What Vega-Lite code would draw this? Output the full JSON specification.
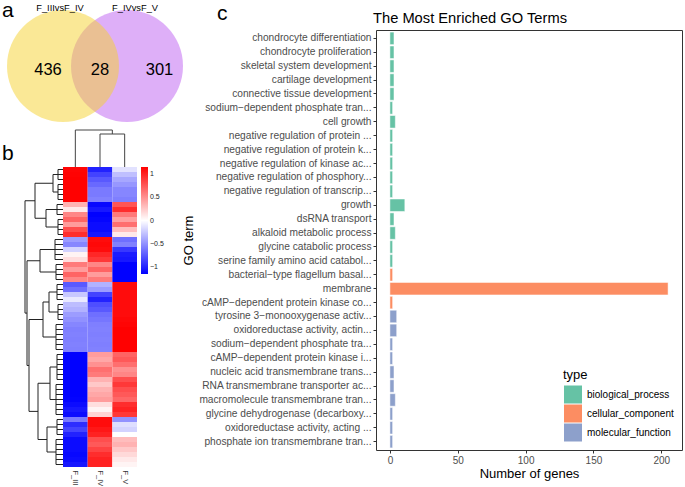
{
  "$schema": "https://vega.github.io/schema/vega-lite/v6.json",
  "padding": 0,
  "background": "white",
  "columns": 3,
  "align": "none",
  "bounds": "flush",
  "spacing": 0,
  "config": {
    "font": "Liberation Sans",
    "view": {"stroke": null},
    "axis": {"labelFont": "Liberation Sans", "titleFont": "Liberation Sans", "grid": false},
    "legend": {"labelFont": "Liberation Sans", "titleFont": "Liberation Sans"},
    "title": {"font": "Liberation Sans", "subtitleFont": "Liberation Sans", "color": "black", "subtitleColor": "black", "fontWeight": "normal"}
  },
  "datasets": {
    "venn": [
      {"set": "F_IVvsF_V", "u": 1.143, "v": 0},
      {"set": "F_IIIvsF_IV", "u": 0, "v": 0}
    ],
    "vtext": [
      {"label": "F_IIIvsF_IV", "kind": "set", "u": -0.054, "v": 0.991},
      {"label": "F_IVvsF_V", "kind": "set", "u": 1.286, "v": 0.991},
      {"label": "436", "kind": "count", "u": -0.268, "v": -0.161},
      {"label": "28", "kind": "count", "u": 0.661, "v": -0.161},
      {"label": "301", "kind": "count", "u": 1.723, "v": -0.161}
    ],
    "tdend": [
      {"u1": 0, "u2": 0, "h1": 0, "h2": 3.7},
      {"u1": 1, "u2": 1, "h1": 0, "h2": 3.3},
      {"u1": 2, "u2": 2, "h1": 0, "h2": 3.3},
      {"u1": 1, "u2": 2, "h1": 3.3, "h2": 3.3},
      {"u1": 1.5, "u2": 1.5, "h1": 3.3, "h2": 3.7},
      {"u1": 0, "u2": 1.5, "h1": 3.7, "h2": 3.7}
    ],
    "ldend": [
      {"h1": 1.0, "h2": 1.0, "p1": 1.5, "p2": 5},
      {"h1": 1.7, "h2": 1.7, "p1": 8.5, "p2": 12},
      {"h1": 2.8, "h2": 2.8, "p1": 3.25, "p2": 10.25},
      {"h1": 2.3, "h2": 2.3, "p1": 16.5, "p2": 21},
      {"h1": 1.4, "h2": 1.4, "p1": 25, "p2": 29},
      {"h1": 2.0, "h2": 2.0, "p1": 27, "p2": 34},
      {"h1": 1.3, "h2": 1.3, "p1": 40, "p2": 46.5},
      {"h1": 1.6, "h2": 1.6, "p1": 52, "p2": 57},
      {"h1": 2.5, "h2": 2.5, "p1": 43.25, "p2": 54.5},
      {"h1": 3.4, "h2": 3.4, "p1": 30.5, "p2": 48.875},
      {"h1": 3.6, "h2": 3.6, "p1": 18.75, "p2": 39.69},
      {"h1": 3.8, "h2": 3.8, "p1": 6.75, "p2": 29.22},
      {"h1": 0.5, "h2": 0.5, "p1": 0.5, "p2": 2.5},
      {"h1": 0.5, "h2": 0.5, "p1": 3.5, "p2": 6.5},
      {"h1": 0.6, "h2": 0.6, "p1": 7.5, "p2": 9.5},
      {"h1": 0.5, "h2": 0.5, "p1": 10.5, "p2": 13.5},
      {"h1": 0.8, "h2": 0.8, "p1": 14.5, "p2": 18.5},
      {"h1": 0.7, "h2": 0.7, "p1": 19.5, "p2": 22.5},
      {"h1": 0.6, "h2": 0.6, "p1": 23.5, "p2": 26.5},
      {"h1": 0.5, "h2": 0.5, "p1": 27.5, "p2": 30.5},
      {"h1": 0.7, "h2": 0.7, "p1": 31.5, "p2": 36.5},
      {"h1": 0.6, "h2": 0.6, "p1": 37.5, "p2": 42.5},
      {"h1": 0.7, "h2": 0.7, "p1": 43.5, "p2": 49.5},
      {"h1": 0.6, "h2": 0.6, "p1": 50.5, "p2": 53.5},
      {"h1": 0.7, "h2": 0.7, "p1": 54.5, "p2": 59.5},
      {"h1": 1.0, "h2": 0.5, "p1": 1.5, "p2": 1.5},
      {"h1": 1.0, "h2": 0.5, "p1": 5, "p2": 5},
      {"h1": 1.7, "h2": 0.6, "p1": 8.5, "p2": 8.5},
      {"h1": 1.7, "h2": 0.5, "p1": 12, "p2": 12},
      {"h1": 2.8, "h2": 1.0, "p1": 3.25, "p2": 3.25},
      {"h1": 2.8, "h2": 1.7, "p1": 10.25, "p2": 10.25},
      {"h1": 2.3, "h2": 0.8, "p1": 16.5, "p2": 16.5},
      {"h1": 2.3, "h2": 0.7, "p1": 21, "p2": 21},
      {"h1": 1.4, "h2": 0.6, "p1": 25, "p2": 25},
      {"h1": 1.4, "h2": 0.5, "p1": 29, "p2": 29},
      {"h1": 2.0, "h2": 1.4, "p1": 27, "p2": 27},
      {"h1": 2.0, "h2": 0.7, "p1": 34, "p2": 34},
      {"h1": 1.3, "h2": 0.6, "p1": 40, "p2": 40},
      {"h1": 1.3, "h2": 0.7, "p1": 46.5, "p2": 46.5},
      {"h1": 1.6, "h2": 0.6, "p1": 52, "p2": 52},
      {"h1": 1.6, "h2": 0.7, "p1": 57, "p2": 57},
      {"h1": 2.5, "h2": 1.3, "p1": 43.25, "p2": 43.25},
      {"h1": 2.5, "h2": 1.6, "p1": 54.5, "p2": 54.5},
      {"h1": 3.4, "h2": 2.0, "p1": 30.5, "p2": 30.5},
      {"h1": 3.4, "h2": 2.5, "p1": 48.875, "p2": 48.875},
      {"h1": 3.6, "h2": 2.3, "p1": 18.75, "p2": 18.75},
      {"h1": 3.6, "h2": 3.4, "p1": 39.69, "p2": 39.69},
      {"h1": 3.8, "h2": 2.8, "p1": 6.75, "p2": 6.75},
      {"h1": 3.8, "h2": 3.6, "p1": 29.22, "p2": 29.22}
    ],
    "leaves": [
      {"h": 0.5, "p": 0.5}, {"h": 0.5, "p": 1.5}, {"h": 0.5, "p": 2.5},
      {"h": 0.5, "p": 3.5}, {"h": 0.5, "p": 4.5}, {"h": 0.5, "p": 5.5}, {"h": 0.5, "p": 6.5},
      {"h": 0.6, "p": 7.5}, {"h": 0.6, "p": 8.5}, {"h": 0.6, "p": 9.5},
      {"h": 0.5, "p": 10.5}, {"h": 0.5, "p": 11.5}, {"h": 0.5, "p": 12.5}, {"h": 0.5, "p": 13.5},
      {"h": 0.8, "p": 14.5}, {"h": 0.8, "p": 15.5}, {"h": 0.8, "p": 16.5}, {"h": 0.8, "p": 17.5}, {"h": 0.8, "p": 18.5},
      {"h": 0.7, "p": 19.5}, {"h": 0.7, "p": 20.5}, {"h": 0.7, "p": 21.5}, {"h": 0.7, "p": 22.5},
      {"h": 0.6, "p": 23.5}, {"h": 0.6, "p": 24.5}, {"h": 0.6, "p": 25.5}, {"h": 0.6, "p": 26.5},
      {"h": 0.5, "p": 27.5}, {"h": 0.5, "p": 28.5}, {"h": 0.5, "p": 29.5}, {"h": 0.5, "p": 30.5},
      {"h": 0.7, "p": 31.5}, {"h": 0.7, "p": 32.5}, {"h": 0.7, "p": 33.5}, {"h": 0.7, "p": 34.5}, {"h": 0.7, "p": 35.5}, {"h": 0.7, "p": 36.5},
      {"h": 0.6, "p": 37.5}, {"h": 0.6, "p": 38.5}, {"h": 0.6, "p": 39.5}, {"h": 0.6, "p": 40.5}, {"h": 0.6, "p": 41.5}, {"h": 0.6, "p": 42.5},
      {"h": 0.7, "p": 43.5}, {"h": 0.7, "p": 44.5}, {"h": 0.7, "p": 45.5}, {"h": 0.7, "p": 46.5}, {"h": 0.7, "p": 47.5}, {"h": 0.7, "p": 48.5}, {"h": 0.7, "p": 49.5},
      {"h": 0.6, "p": 50.5}, {"h": 0.6, "p": 51.5}, {"h": 0.6, "p": 52.5}, {"h": 0.6, "p": 53.5},
      {"h": 0.7, "p": 54.5}, {"h": 0.7, "p": 55.5}, {"h": 0.7, "p": 56.5}, {"h": 0.7, "p": 57.5}, {"h": 0.7, "p": 58.5}, {"h": 0.7, "p": 59.5}
    ],
    "heat": [
      {"r": 1, "F_III": 1.13, "F_IV": -1.0, "F_V": -0.13},
      {"r": 2, "F_III": 1.14, "F_IV": -0.85, "F_V": -0.29},
      {"r": 3, "F_III": 1.15, "F_IV": -0.75, "F_V": -0.4},
      {"r": 4, "F_III": 1.15, "F_IV": -0.68, "F_V": -0.47},
      {"r": 5, "F_III": 1.15, "F_IV": -0.6, "F_V": -0.55},
      {"r": 6, "F_III": 1.15, "F_IV": -0.6, "F_V": -0.55},
      {"r": 7, "F_III": 1.15, "F_IV": -0.57, "F_V": -0.58},
      {"r": 8, "F_III": 0.35, "F_IV": -1.12, "F_V": 0.77},
      {"r": 9, "F_III": 0.1, "F_IV": -1.05, "F_V": 0.95},
      {"r": 10, "F_III": 0.55, "F_IV": -1.15, "F_V": 0.6},
      {"r": 11, "F_III": 0.7, "F_IV": -1.13, "F_V": 0.43},
      {"r": 12, "F_III": 0.45, "F_IV": -1.1, "F_V": 0.65},
      {"r": 13, "F_III": 0.8, "F_IV": -1.1, "F_V": 0.3},
      {"r": 14, "F_III": 0.95, "F_IV": -1.05, "F_V": 0.1},
      {"r": 15, "F_III": -0.45, "F_IV": 1.1, "F_V": -0.65},
      {"r": 16, "F_III": -0.55, "F_IV": 1.12, "F_V": -0.57},
      {"r": 17, "F_III": -0.2, "F_IV": 1.1, "F_V": -0.9},
      {"r": 18, "F_III": 0.05, "F_IV": 0.98, "F_V": -1.03},
      {"r": 19, "F_III": 0.15, "F_IV": 0.9, "F_V": -1.05},
      {"r": 20, "F_III": 0.6, "F_IV": 0.55, "F_V": -1.15},
      {"r": 21, "F_III": 0.45, "F_IV": 0.7, "F_V": -1.15},
      {"r": 22, "F_III": 0.7, "F_IV": 0.45, "F_V": -1.15},
      {"r": 23, "F_III": 0.55, "F_IV": 0.6, "F_V": -1.15},
      {"r": 24, "F_III": -0.75, "F_IV": -0.35, "F_V": 1.1},
      {"r": 25, "F_III": -0.65, "F_IV": -0.45, "F_V": 1.1},
      {"r": 26, "F_III": -0.25, "F_IV": -0.85, "F_V": 1.1},
      {"r": 27, "F_III": -0.1, "F_IV": -1.0, "F_V": 1.1},
      {"r": 28, "F_III": -0.3, "F_IV": -0.8, "F_V": 1.1},
      {"r": 29, "F_III": -0.35, "F_IV": -0.75, "F_V": 1.1},
      {"r": 30, "F_III": -0.45, "F_IV": -0.65, "F_V": 1.1},
      {"r": 31, "F_III": -0.5, "F_IV": -0.62, "F_V": 1.12},
      {"r": 32, "F_III": -0.55, "F_IV": -0.58, "F_V": 1.13},
      {"r": 33, "F_III": -0.58, "F_IV": -0.57, "F_V": 1.15},
      {"r": 34, "F_III": -0.57, "F_IV": -0.58, "F_V": 1.15},
      {"r": 35, "F_III": -0.58, "F_IV": -0.57, "F_V": 1.15},
      {"r": 36, "F_III": -0.57, "F_IV": -0.58, "F_V": 1.15},
      {"r": 37, "F_III": -0.58, "F_IV": -0.57, "F_V": 1.15},
      {"r": 38, "F_III": -1.15, "F_IV": 0.45, "F_V": 0.7},
      {"r": 39, "F_III": -1.15, "F_IV": 0.4, "F_V": 0.75},
      {"r": 40, "F_III": -1.15, "F_IV": 0.5, "F_V": 0.65},
      {"r": 41, "F_III": -1.15, "F_IV": 0.65, "F_V": 0.5},
      {"r": 42, "F_III": -1.15, "F_IV": 0.6, "F_V": 0.55},
      {"r": 43, "F_III": -1.15, "F_IV": 0.35, "F_V": 0.8},
      {"r": 44, "F_III": -1.15, "F_IV": 0.25, "F_V": 0.9},
      {"r": 45, "F_III": -1.15, "F_IV": 0.35, "F_V": 0.8},
      {"r": 46, "F_III": -1.15, "F_IV": 0.4, "F_V": 0.75},
      {"r": 47, "F_III": -1.14, "F_IV": 0.45, "F_V": 0.69},
      {"r": 48, "F_III": -1.1, "F_IV": 0.15, "F_V": 0.95},
      {"r": 49, "F_III": -1.05, "F_IV": 0.05, "F_V": 1.0},
      {"r": 50, "F_III": -1.1, "F_IV": 0.2, "F_V": 0.9},
      {"r": 51, "F_III": -0.6, "F_IV": 1.1, "F_V": -0.5},
      {"r": 52, "F_III": -0.95, "F_IV": 1.1, "F_V": -0.15},
      {"r": 53, "F_III": -0.85, "F_IV": 1.05, "F_V": -0.2},
      {"r": 54, "F_III": -1.0, "F_IV": 1.0, "F_V": 0.0},
      {"r": 55, "F_III": -1.1, "F_IV": 0.8, "F_V": 0.3},
      {"r": 56, "F_III": -1.1, "F_IV": 0.75, "F_V": 0.35},
      {"r": 57, "F_III": -1.1, "F_IV": 0.85, "F_V": 0.25},
      {"r": 58, "F_III": -1.12, "F_IV": 0.95, "F_V": 0.17},
      {"r": 59, "F_III": -1.1, "F_IV": 1.0, "F_V": 0.1},
      {"r": 60, "F_III": -1.05, "F_IV": 1.0, "F_V": 0.05}
    ],
    "bars": [
      {"term": "chondrocyte differentiation", "n": 3, "type": "biological_process"},
      {"term": "chondrocyte proliferation", "n": 3, "type": "biological_process"},
      {"term": "skeletal system development", "n": 3, "type": "biological_process"},
      {"term": "cartilage development", "n": 3, "type": "biological_process"},
      {"term": "connective tissue development", "n": 3, "type": "biological_process"},
      {"term": "sodium−dependent phosphate tran...", "n": 2, "type": "biological_process"},
      {"term": "cell growth", "n": 4, "type": "biological_process"},
      {"term": "negative regulation of protein ...", "n": 2, "type": "biological_process"},
      {"term": "negative regulation of protein k...", "n": 2, "type": "biological_process"},
      {"term": "negative regulation of kinase ac...", "n": 2, "type": "biological_process"},
      {"term": "negative regulation of phosphory...", "n": 2, "type": "biological_process"},
      {"term": "negative regulation of transcrip...", "n": 2, "type": "biological_process"},
      {"term": "growth", "n": 11, "type": "biological_process"},
      {"term": "dsRNA transport", "n": 3, "type": "biological_process"},
      {"term": "alkaloid metabolic process", "n": 4, "type": "biological_process"},
      {"term": "glycine catabolic process", "n": 2, "type": "biological_process"},
      {"term": "serine family amino acid catabol...", "n": 2, "type": "biological_process"},
      {"term": "bacterial−type flagellum basal...", "n": 2, "type": "cellular_component"},
      {"term": "membrane", "n": 205, "type": "cellular_component"},
      {"term": "cAMP−dependent protein kinase co...", "n": 2, "type": "cellular_component"},
      {"term": "tyrosine 3−monooxygenase activ...", "n": 5, "type": "molecular_function"},
      {"term": "oxidoreductase activity, actin...", "n": 5, "type": "molecular_function"},
      {"term": "sodium−dependent phosphate tra...", "n": 2, "type": "molecular_function"},
      {"term": "cAMP−dependent protein kinase i...", "n": 2, "type": "molecular_function"},
      {"term": "nucleic acid transmembrane trans...", "n": 3, "type": "molecular_function"},
      {"term": "RNA transmembrane transporter ac...", "n": 3, "type": "molecular_function"},
      {"term": "macromolecule transmembrane tran...", "n": 4, "type": "molecular_function"},
      {"term": "glycine dehydrogenase (decarboxy...", "n": 2, "type": "molecular_function"},
      {"term": "oxidoreductase activity, acting ...", "n": 2, "type": "molecular_function"},
      {"term": "phosphate ion transmembrane tran...", "n": 2, "type": "molecular_function"}
    ]
  },
  "concat": [
    {
      "width": 63,
      "height": 437,
      "title": {"text": "a", "subtitle": "b", "fontSize": 21, "subtitleFontSize": 21, "subtitlePadding": 122, "anchor": "start", "frame": "group", "dx": 2, "offset": -177.5, "baseline": "alphabetic"},
      "resolve": {"scale": {"x": "independent", "y": "independent"}},
      "layer": [
        {
          "data": {"name": "venn"},
          "mark": {"type": "point", "shape": "circle", "filled": true, "opacity": 1, "fillOpacity": 0.5, "strokeWidth": 0, "size": 12544},
          "encoding": {
            "x": {"field": "u", "type": "quantitative", "scale": {"domain": [-1.125, 0], "nice": false, "zero": false}, "axis": null},
            "y": {"field": "v", "type": "quantitative", "scale": {"domain": [-7.161, 0.643], "nice": false, "zero": false}, "axis": null},
            "color": {"field": "set", "type": "nominal", "scale": {"domain": ["F_IVvsF_V", "F_IIIvsF_IV"], "range": ["#BD5FF1", "#F5D12D"]}, "legend": null}
          }
        },
        {
          "data": {"name": "vtext"},
          "mark": {"type": "text", "baseline": "alphabetic", "align": "center", "color": "black"},
          "encoding": {
            "x": {"field": "u", "type": "quantitative", "scale": {"domain": [-1.125, 0], "nice": false, "zero": false}, "axis": null},
            "y": {"field": "v", "type": "quantitative", "scale": {"domain": [-7.161, 0.643], "nice": false, "zero": false}, "axis": null},
            "text": {"field": "label"},
            "size": {"field": "kind", "type": "nominal", "scale": {"domain": ["set", "count"], "range": [9.3, 16.5]}, "legend": null}
          }
        },
        {
          "data": {"name": "ldend"},
          "mark": {"type": "rule", "color": "#222222", "strokeWidth": 1},
          "encoding": {
            "x": {"field": "h1", "type": "quantitative", "scale": {"domain": [0, 6.3], "reverse": true, "nice": false, "zero": false}, "axis": null},
            "x2": {"field": "h2"},
            "y": {"field": "p1", "type": "quantitative", "scale": {"domain": [-27.4, 60], "reverse": true, "nice": false, "zero": false}, "axis": null},
            "y2": {"field": "p2"}
          }
        },
        {
          "data": {"name": "leaves"},
          "mark": {"type": "rule", "color": "#222222", "strokeWidth": 1},
          "encoding": {
            "x": {"field": "h", "type": "quantitative", "scale": {"domain": [0, 6.3], "reverse": true, "nice": false, "zero": false}, "axis": null},
            "x2": {"datum": 0},
            "y": {"field": "p", "type": "quantitative", "scale": {"domain": [-27.4, 60], "reverse": true, "nice": false, "zero": false}, "axis": null}
          }
        }
      ]
    },
    {
      "width": 313,
      "height": 437,
      "title": {"text": "c", "fontSize": 21, "anchor": "start", "frame": "group", "dx": 154, "offset": -11, "baseline": "alphabetic"},
      "resolve": {"scale": {"x": "independent", "y": "independent"}},
      "layer": [
        {
          "data": {"name": "heat"},
          "transform": [{"fold": ["F_III", "F_IV", "F_V"], "as": ["sample", "z"]}],
          "mark": {"type": "rect"},
          "encoding": {
            "x": {"field": "sample", "type": "nominal", "scale": {"paddingInner": 0, "paddingOuter": 0, "range": [0, 74]}, "axis": {"title": null, "labelAngle": 90, "labelAlign": "left", "labelBaseline": "middle", "domain": false, "ticks": false, "labelPadding": 3, "labelFontSize": 7.5, "labelColor": "#333333"}},
            "y": {"field": "r", "type": "ordinal", "scale": {"paddingInner": 0, "paddingOuter": 0, "range": [137, 437]}, "axis": null},
            "color": {
              "field": "z", "type": "quantitative",
              "scale": {"domain": [-1.1547, 0, 1.1547], "range": ["#0000FF", "#FFFFFF", "#FF0000"], "interpolate": "rgb"},
              "legend": {"orient": "none", "legendX": 78, "legendY": 137, "direction": "vertical", "padding": 0, "title": null, "gradientLength": 107, "gradientThickness": 7, "values": [1, 0.5, 0, -0.5, -1], "format": "~g", "labelFontSize": 7, "labelOffset": 2, "labelOverlap": false, "gradientStrokeWidth": 0, "labelColor": "#222222"}
            }
          }
        },
        {
          "data": {"name": "tdend"},
          "mark": {"type": "rule", "color": "#444444", "strokeWidth": 1},
          "encoding": {
            "x": {"field": "u1", "type": "quantitative", "scale": {"domain": [-0.5, 12.189], "nice": false, "zero": false}, "axis": null},
            "x2": {"field": "u2"},
            "y": {"field": "h1", "type": "quantitative", "scale": {"domain": [-30, 13.7], "nice": false, "zero": false}, "axis": null},
            "y2": {"field": "h2"}
          }
        }
      ]
    },
    {
      "width": 306,
      "height": 420,
      "view": {"stroke": "#333333", "strokeWidth": 1},
      "title": {"text": "The Most Enriched GO Terms", "fontSize": 14.7, "anchor": "start", "frame": "group", "dx": -3, "offset": -8, "baseline": "alphabetic"},
      "data": {"name": "bars"},
      "mark": {"type": "bar", "stroke": "white", "strokeWidth": 0.5},
      "encoding": {
        "y": {
          "field": "term", "type": "nominal", "sort": null,
          "scale": {"paddingInner": 0.1, "paddingOuter": 0.15},
          "axis": {"title": "GO term", "labelFontSize": 10.2, "labelColor": "#4D4D4D", "tickColor": "#333333", "tickSize": 3, "labelPadding": 2, "domain": false, "labelLimit": 400, "titleFontSize": 13, "titleFontWeight": "normal", "titlePadding": 3, "titleColor": "black"}
        },
        "x": {
          "field": "n", "type": "quantitative",
          "scale": {"domain": [-10.25, 215.25], "nice": false, "zero": false},
          "axis": {"values": [0, 50, 100, 150, 200], "title": "Number of genes", "labelFontSize": 10, "labelColor": "#4D4D4D", "tickColor": "#333333", "tickSize": 3, "labelPadding": 2, "domain": false, "titleFontSize": 13, "titleFontWeight": "normal", "titlePadding": 2, "titleColor": "black"}
        },
        "color": {
          "field": "type", "type": "nominal",
          "scale": {"domain": ["biological_process", "cellular_component", "molecular_function"], "range": ["#66C2A5", "#FC8D62", "#8DA0CB"]},
          "legend": {"orient": "bottom-right", "offset": 8, "title": "type", "titleFontSize": 13, "titleFontWeight": "normal", "titleColor": "black", "labelFontSize": 10, "labelColor": "black", "symbolType": "square", "symbolSize": 361, "symbolStrokeColor": "white", "symbolStrokeWidth": 1, "symbolOpacity": 1, "rowPadding": 0, "clipHeight": 19, "labelOffset": 4, "titlePadding": 3, "padding": 0}
        }
      }
    }
  ]
}
